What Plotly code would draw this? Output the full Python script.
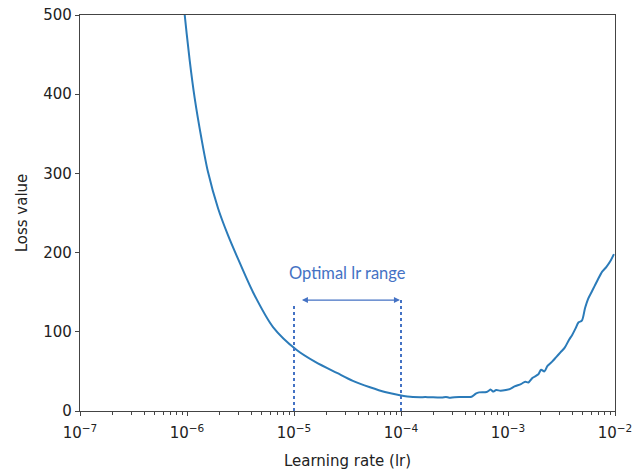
import math
import plotly.graph_objects as go

lr = [7.94e-7, 9.52e-7, 1.059e-6, 1.180e-6, 1.361e-6, 1.570e-6, 1.950e-6, 2.415e-6, 3.00e-6,
      4.14e-6, 6.37e-6,
      1.06e-5, 1.58e-5, 2.52e-5, 3.55e-5, 5.13e-5, 7.08e-5, 9.77e-5, 1.29e-4, 1.78e-4,
      2.40e-4, 2.63e-4, 2.82e-4, 3.16e-4, 3.98e-4, 4.57e-4, 5.0e-4, 5.37e-4, 6.31e-4,
      6.92e-4, 7.24e-4, 7.76e-4, 8.51e-4, 9.55e-4, 1.05e-3, 1.15e-3, 1.32e-3, 1.45e-3,
      1.55e-3, 1.70e-3, 1.91e-3, 2.04e-3, 2.19e-3, 2.34e-3, 2.57e-3, 2.82e-3, 3.09e-3,
      3.39e-3, 3.72e-3, 3.98e-3, 4.27e-3, 4.57e-3, 4.90e-3, 5.25e-3, 5.62e-3, 6.03e-3,
      6.46e-3, 6.92e-3, 7.59e-3, 8.32e-3, 9.12e-3, 9.77e-3]
loss = [610, 500, 443, 395, 345, 302, 256, 222, 192,
        150, 106,
        77, 62, 48, 38, 30, 24, 20, 17.7, 17.5,
        17.0, 17.8, 16.8, 17.5, 17.6, 18, 22, 23.5, 24,
        27, 24.5, 26.5, 25.5, 26.5, 28, 31, 34, 37,
        36, 42, 46, 52, 50, 57, 62, 68, 74,
        80, 90, 96, 104, 112, 114, 130, 142, 150,
        158, 166, 176, 182, 190, 198]

range_lo = 1e-5
range_hi = 1e-4
range_line_top = [134, 140]
arrow_loss = 140
label_loss = 174
label_text = "Optimal lr range"

xtick_vals = [1e-7, 1e-6, 1e-5, 1e-4, 1e-3, 1e-2]
xtick_text = ["10<sup>\u22127</sup>", "10<sup>\u22126</sup>", "10<sup>\u22125</sup>",
              "10<sup>\u22124</sup>", "10<sup>\u22123</sup>", "10<sup>\u22122</sup>"]
minor_vals = [m * d for d in [1e-7, 1e-6, 1e-5, 1e-4, 1e-3] for m in range(2, 10)]
ytick_vals = [0, 100, 200, 300, 400, 500]

accent = "#4472C4"
axis_color = "#444444"

fig = go.Figure()
fig.add_trace(go.Scatter(x=lr, y=loss, mode="lines",
                         line=dict(color="#2b7bb9", width=2, shape="spline", smoothing=0.8),
                         showlegend=False))
for xv, top in zip([range_lo, range_hi], range_line_top):
    fig.add_trace(go.Scatter(x=[xv, xv], y=[0, top], mode="lines",
                             line=dict(color=accent, width=2, dash="dot"),
                             showlegend=False))

fig.add_annotation(x=math.log10(range_hi) - 0.01, y=arrow_loss,
                   ax=math.log10(range_lo) + 0.06, ay=arrow_loss,
                   xref="x", yref="y", axref="x", ayref="y",
                   text="", showarrow=True, arrowhead=2, startarrowhead=2,
                   arrowside="end+start", arrowsize=1, startarrowsize=1,
                   arrowwidth=1.2, arrowcolor=accent)
fig.add_annotation(x=(math.log10(range_lo) + math.log10(range_hi)) / 2, y=label_loss,
                   xref="x", yref="y", text=label_text, showarrow=False,
                   font=dict(family="Lato, Open Sans, sans-serif", size=16.5, color=accent))

tick_font = dict(family="DejaVu Sans, sans-serif", size=15, color="#222222")
title_font = dict(family="DejaVu Sans, sans-serif", size=15, color="#222222")
fig.update_layout(
    width=644, height=471,
    margin=dict(l=80, r=29, t=15, b=60),
    plot_bgcolor="white", paper_bgcolor="white",
    font=tick_font,
    xaxis=dict(type="log", range=[-7, -2], tickvals=xtick_vals, ticktext=xtick_text,
               showgrid=False, zeroline=False, showline=True, linecolor=axis_color,
               linewidth=1.2, mirror=True, ticks="outside", ticklen=4, tickcolor=axis_color,
               ticklabelstandoff=4,
               minor=dict(tickvals=minor_vals, ticks="outside", ticklen=2.5,
                          tickcolor=axis_color, showgrid=False),
               title=dict(text="Learning rate (lr)", font=title_font, standoff=14),
               tickfont=tick_font, automargin=False),
    yaxis=dict(range=[0, 500], tickvals=ytick_vals, showgrid=False, zeroline=False,
               showline=True, linecolor=axis_color, linewidth=1.2, mirror=True,
               ticks="outside", ticklen=4, tickcolor=axis_color,
               title=dict(text="Loss value", font=title_font, standoff=12),
               tickfont=tick_font, automargin=False),
)

fig.write_html("out.html")
